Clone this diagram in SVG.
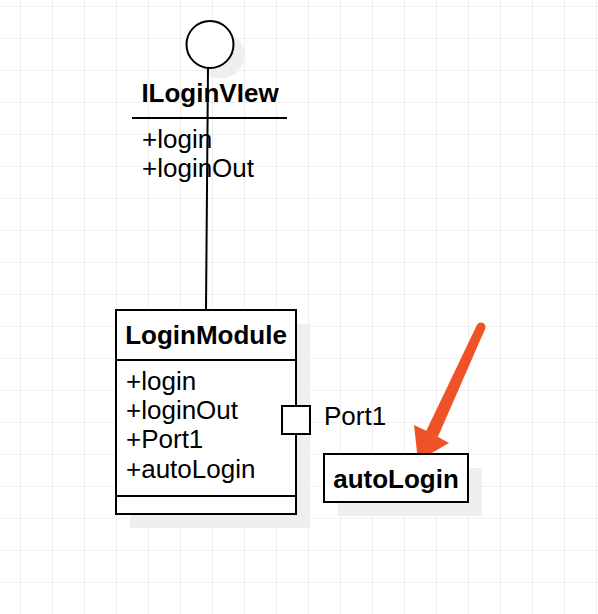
<svg xmlns="http://www.w3.org/2000/svg" width="598" height="614" viewBox="0 0 598 614">
  <defs>
    <pattern id="grid" x="20" y="6" width="32" height="32" patternUnits="userSpaceOnUse">
      <path d="M0 0 V32 M0 0 H32" fill="none" stroke="#e3e3e3" stroke-width="1.2"/>
    </pattern>
  </defs>
  <style>
    .shape { fill: #ffffff; stroke: #000000; stroke-width: 2; }
    .shadow { fill: #efefef; stroke: none; }
    .title { font-family: "Liberation Sans", Arial, sans-serif; font-size: 26px; font-weight: bold; fill: #000; }
    .attr { font-family: "Liberation Sans", Arial, sans-serif; font-size: 26px; fill: #000; }
    .line { stroke: #000; stroke-width: 2; fill: none; }
    .arrow { fill: #f05228; stroke: none; }
  </style>
  <rect width="598" height="614" fill="#ffffff"/>
  <rect width="598" height="614" fill="url(#grid)"/>

  <g id="ILoginView">
    <circle class="shadow" cx="221" cy="55" r="23.5"/>
    <circle class="shape" cx="210" cy="44.5" r="23.5"/>
    <text class="title" x="210" y="102" text-anchor="middle">ILoginVIew</text>
    <line class="line" x1="132" y1="118" x2="287" y2="118"/>
    <text class="attr" x="142" y="148">+login</text>
    <text class="attr" x="142" y="177">+loginOut</text>
  </g>

  <g id="connectors">
    <line class="line" x1="208" y1="68" x2="206" y2="310"/>
    <circle class="arrow" cx="481" cy="327" r="4.5"/>
    <polygon class="arrow" points="485.1,328.9 476.9,325.1 426.1,431.3 437.9,436.7"/>
    <polygon class="arrow" points="418,461 414,425 431,433 449,443"/>
  </g>

  <g id="LoginModule">
    <rect class="shadow" x="130" y="324" width="180" height="204"/>
    <rect class="shape" x="116" y="310" width="180" height="204"/>
    <line class="line" x1="116" y1="360" x2="296" y2="360"/>
    <line class="line" x1="116" y1="496" x2="296" y2="496"/>
    <text class="title" x="206" y="344" text-anchor="middle">LoginModule</text>
    <text class="attr" x="126" y="390">+login</text>
    <text class="attr" x="126" y="419">+loginOut</text>
    <text class="attr" x="126" y="448">+Port1</text>
    <text class="attr" x="126" y="478">+autoLogin</text>
  </g>

  <g id="Port1">
    <rect class="shape" x="282" y="406" width="28" height="28"/>
    <text class="attr" x="324" y="425">Port1</text>
  </g>

  <g id="autoLogin">
    <rect class="shadow" x="338" y="468" width="144" height="48"/>
    <rect class="shape" x="324" y="454" width="144" height="48"/>
    <text class="title" x="396" y="488" text-anchor="middle">autoLogin</text>
  </g>
</svg>
